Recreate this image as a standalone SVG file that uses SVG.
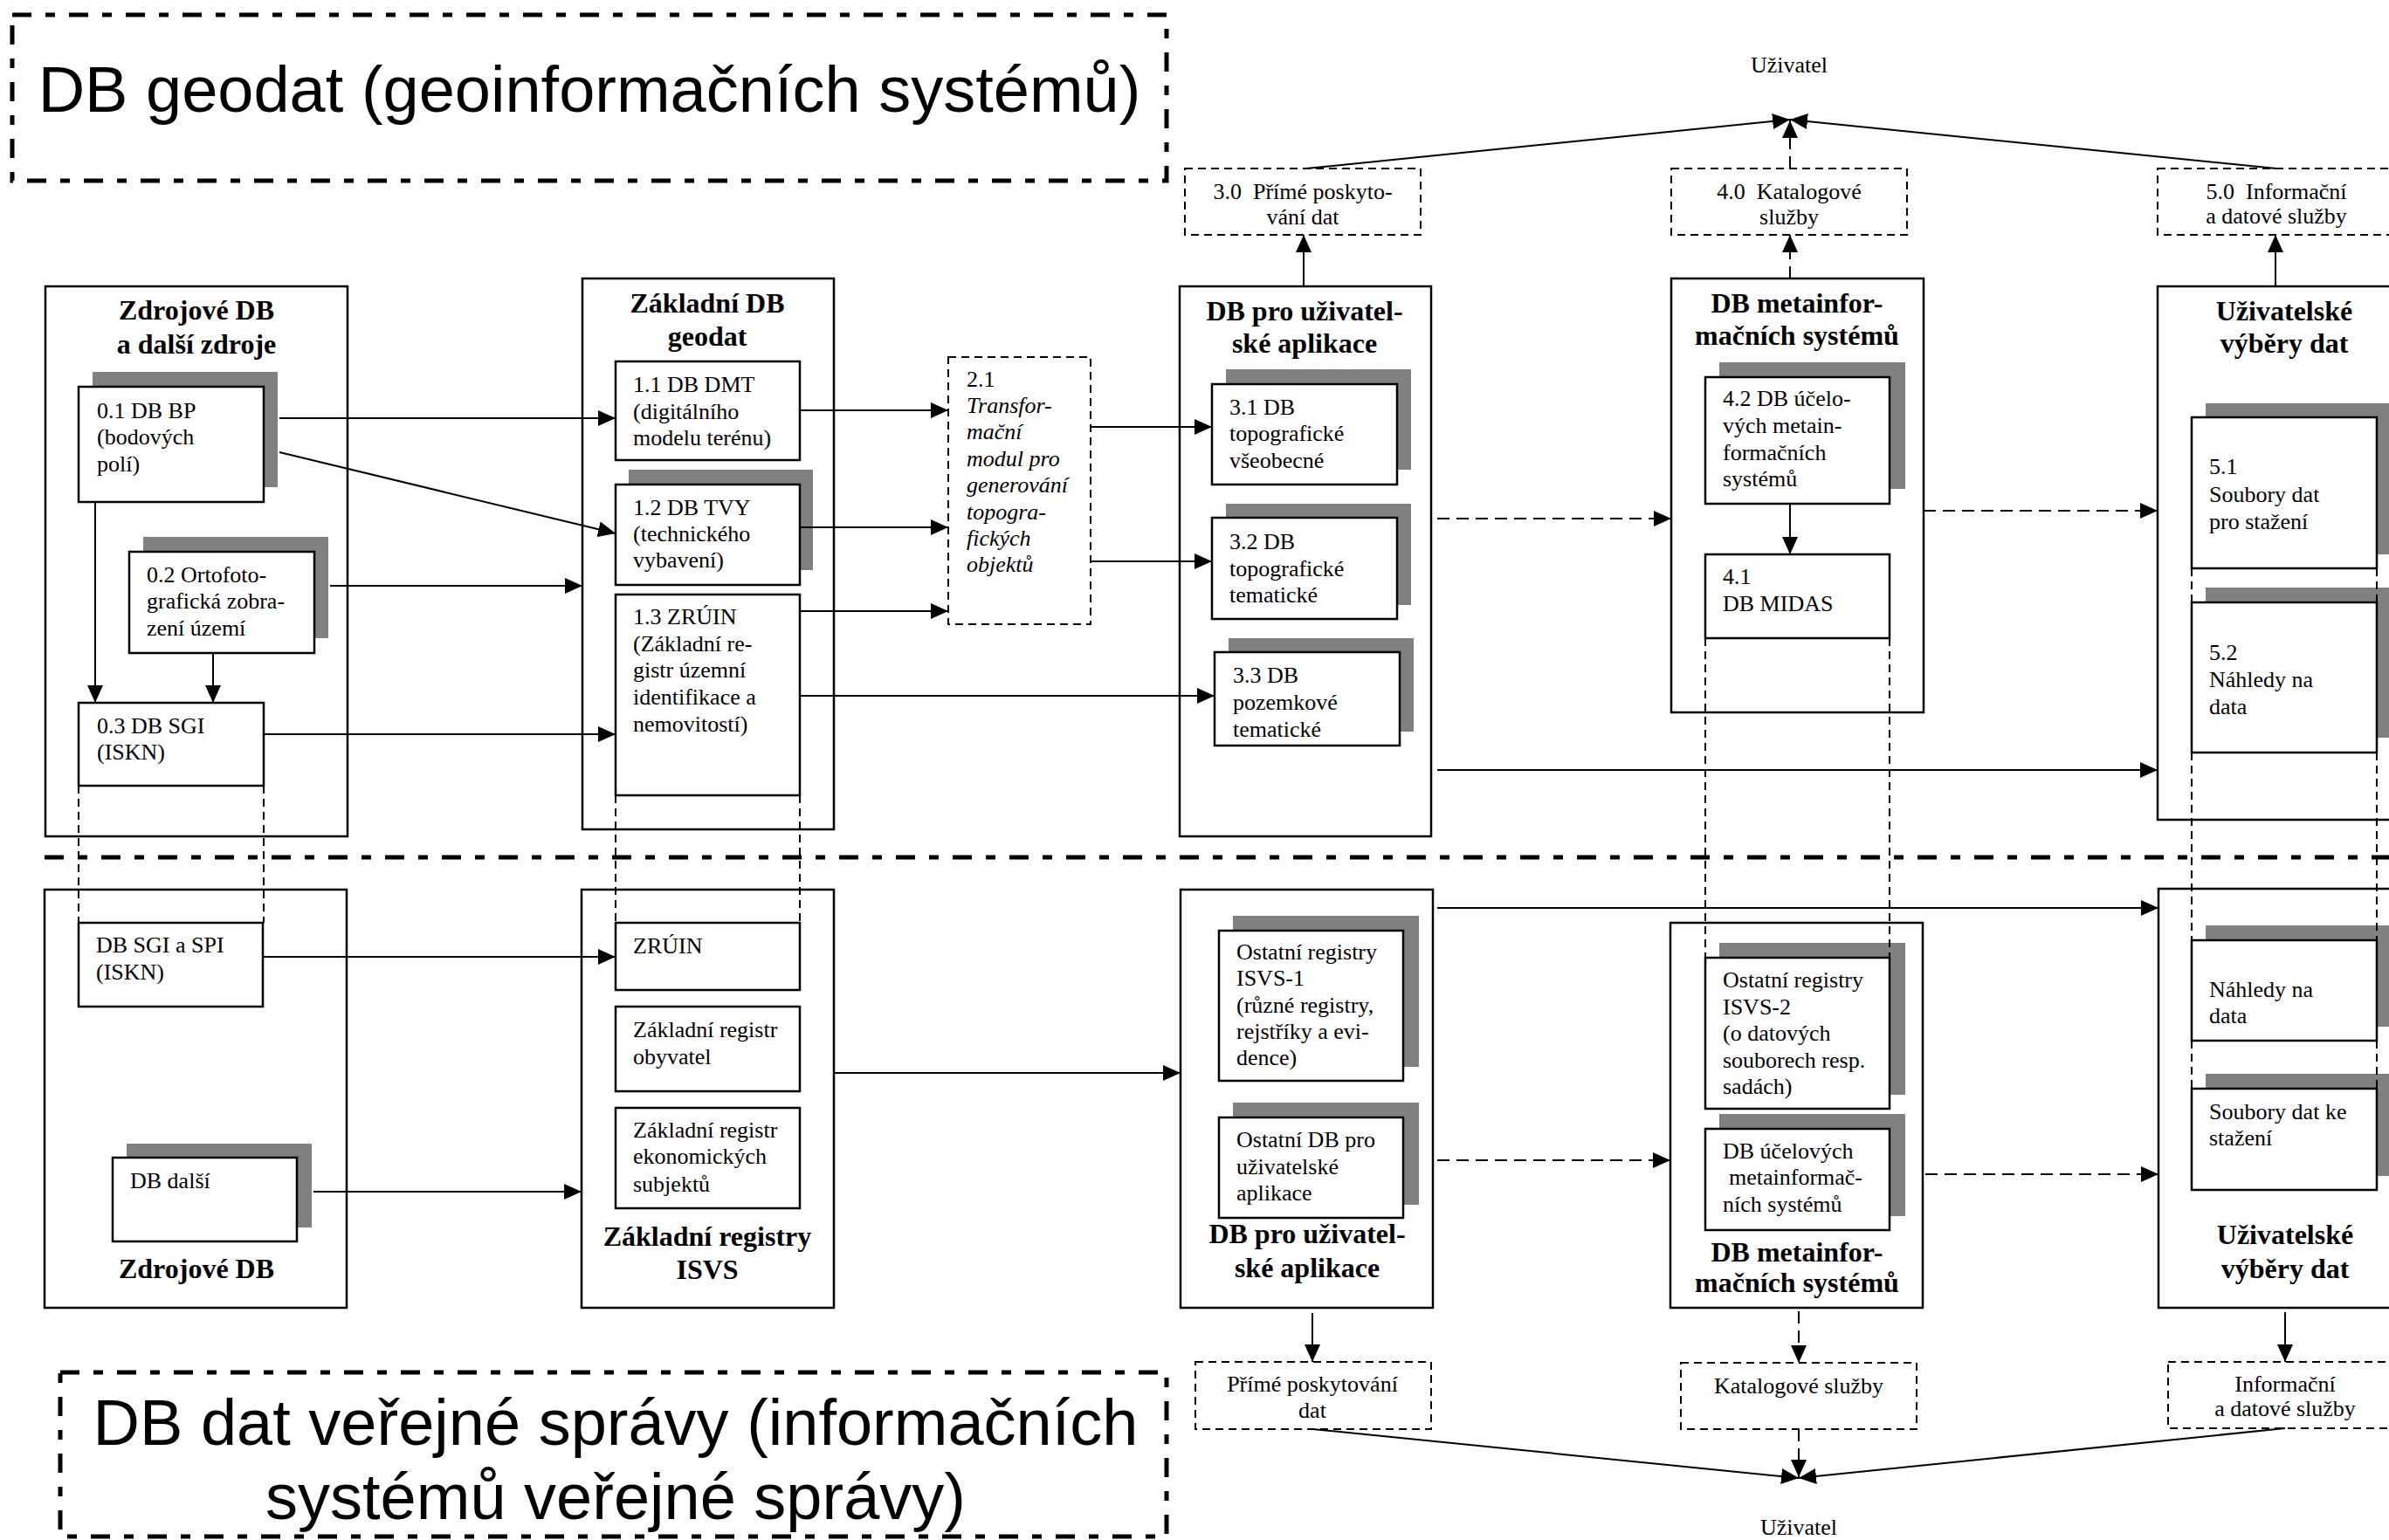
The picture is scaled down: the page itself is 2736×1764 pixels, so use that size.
<svg xmlns="http://www.w3.org/2000/svg" width="2736" height="1764" viewBox="0 0 2736 1764">
<style>
.bg{fill:#fff}
.ob{fill:#fff;stroke:#000;stroke-width:2.5}
.ib{fill:#fff;stroke:#000;stroke-width:2.5}
.sh{fill:#808080}
.db{fill:#fff;stroke:#000;stroke-width:2;stroke-dasharray:9 6}
.t{font-family:"Liberation Serif","Times New Roman",serif;font-size:26px;fill:#000}
.i{font-style:italic}
.m{text-anchor:middle}
.h{font-family:"Liberation Serif","Times New Roman",serif;font-size:32px;font-weight:bold;text-anchor:middle;fill:#000}
.ttl{font-family:"Liberation Sans",Arial,sans-serif;font-size:74px;text-anchor:middle;fill:#000}
.tb{fill:none;stroke:#000;stroke-width:5;stroke-dasharray:22 16 11 16}
.ln{fill:none;stroke:#000;stroke-width:2}
.dl{fill:none;stroke:#000;stroke-width:2;stroke-dasharray:14 8}
.dv{fill:none;stroke:#000;stroke-width:2;stroke-dasharray:9 6}
.a{marker-end:url(#ah)}
</style>
<defs>
<marker id="ah" markerWidth="20" markerHeight="18" refX="20" refY="9" orient="auto" markerUnits="userSpaceOnUse">
<path d="M0,0 L20,9 L0,18 z" fill="#000"/>
</marker>
</defs>
<rect class="bg" x="0" y="0" width="2736" height="1764"/>

<g id="title-geodat">
<rect class="tb" x="14" y="17" width="1322" height="190"/>
<text class="ttl" x="675" y="128">DB geodat (geoinformačních systémů)</text>
</g>
<g id="title-vs">
<rect class="tb" x="69" y="1572" width="1267" height="188"/>
<text class="ttl" x="705" y="1655">DB dat veřejné správy (informačních</text>
<text class="ttl" x="705" y="1740">systémů veřejné správy)</text>
</g>

<!-- upper column 0 -->
<g id="zdrojove-db-upper">
<rect class="ob" x="52" y="328" width="346" height="630"/>
<text class="h" x="225" y="366">Zdrojové DB</text>
<text class="h" x="225" y="405">a další zdroje</text>
</g>
<g id="n01">
<rect class="sh" x="106" y="426" width="212" height="132"/>
<rect class="ib" x="90" y="443" width="212" height="132"/>
<text class="t" x="111" y="479">0.1 DB BP</text>
<text class="t" x="111" y="509">(bodových</text>
<text class="t" x="111" y="540">polí)</text>
</g>
<g id="n02">
<rect class="sh" x="164" y="615" width="212" height="116"/>
<rect class="ib" x="148" y="632" width="212" height="116"/>
<text class="t" x="168" y="667">0.2 Ortofoto-</text>
<text class="t" x="168" y="697">grafická zobra-</text>
<text class="t" x="168" y="728">zení území</text>
</g>
<g id="n03">
<rect class="ib" x="90" y="805" width="212" height="95"/>
<text class="t" x="111" y="840">0.3 DB SGI</text>
<text class="t" x="111" y="870">(ISKN)</text>
</g>

<!-- upper column 1 -->
<g id="zakladni-db-geodat">
<rect class="ob" x="667" y="319" width="288" height="631"/>
<text class="h" x="810" y="358">Základní DB</text>
<text class="h" x="810" y="396">geodat</text>
</g>
<g id="n11">
<rect class="ib" x="705" y="414" width="211" height="113"/>
<text class="t" x="725" y="449">1.1 DB DMT</text>
<text class="t" x="725" y="480">(digitálního</text>
<text class="t" x="725" y="510">modelu terénu)</text>
</g>
<g id="n12">
<rect class="sh" x="720" y="538" width="211" height="115"/>
<rect class="ib" x="705" y="555" width="211" height="115"/>
<text class="t" x="725" y="590">1.2 DB TVY</text>
<text class="t" x="725" y="620">(technického</text>
<text class="t" x="725" y="650">vybavení)</text>
</g>
<g id="n13">
<rect class="ib" x="705" y="681" width="211" height="230"/>
<text class="t" x="725" y="715">1.3 ZRÚIN</text>
<text class="t" x="725" y="746">(Základní re-</text>
<text class="t" x="725" y="776">gistr územní</text>
<text class="t" x="725" y="807">identifikace a</text>
<text class="t" x="725" y="838">nemovitostí)</text>
</g>

<!-- 2.1 -->
<g id="n21">
<rect class="db" x="1086" y="409" width="163" height="306"/>
<text class="t" x="1107" y="443">2.1</text>
<text class="t i" x="1107" y="473">Transfor-</text>
<text class="t i" x="1107" y="503">mační</text>
<text class="t i" x="1107" y="534">modul pro</text>
<text class="t i" x="1107" y="564">generování</text>
<text class="t i" x="1107" y="595">topogra-</text>
<text class="t i" x="1107" y="625">fických</text>
<text class="t i" x="1107" y="655">objektů</text>
</g>

<!-- upper column 3 -->
<g id="db-uziv-apl-upper">
<rect class="ob" x="1351" y="328" width="288" height="630"/>
<text class="h" x="1494" y="367">DB pro uživatel-</text>
<text class="h" x="1494" y="404">ské aplikace</text>
</g>
<g id="n31">
<rect class="sh" x="1404" y="423" width="212" height="115"/>
<rect class="ib" x="1388" y="440" width="212" height="115"/>
<text class="t" x="1408" y="475">3.1 DB</text>
<text class="t" x="1408" y="505">topografické</text>
<text class="t" x="1408" y="536">všeobecné</text>
</g>
<g id="n32">
<rect class="sh" x="1404" y="577" width="212" height="116"/>
<rect class="ib" x="1388" y="593" width="212" height="116"/>
<text class="t" x="1408" y="629">3.2 DB</text>
<text class="t" x="1408" y="660">topografické</text>
<text class="t" x="1408" y="690">tematické</text>
</g>
<g id="n33">
<rect class="sh" x="1407" y="731" width="212" height="107"/>
<rect class="ib" x="1391" y="747" width="212" height="107"/>
<text class="t" x="1412" y="782">3.3 DB</text>
<text class="t" x="1412" y="813">pozemkové</text>
<text class="t" x="1412" y="844">tematické</text>
</g>
<g id="n30">
<rect class="db" x="1357" y="193" width="270" height="76"/>
<text class="t m" x="1492" y="228">3.0&#160; Přímé poskyto-</text>
<text class="t m" x="1492" y="257">vání dat</text>
</g>

<!-- upper column 4 -->
<g id="db-meta-upper">
<rect class="ob" x="1914" y="319" width="289" height="497"/>
<text class="h" x="2058" y="358">DB metainfor-</text>
<text class="h" x="2058" y="395">mačních systémů</text>
</g>
<g id="n42">
<rect class="sh" x="1969" y="415" width="213" height="145"/>
<rect class="ib" x="1953" y="432" width="211" height="145"/>
<text class="t" x="1973" y="465">4.2 DB účelo-</text>
<text class="t" x="1973" y="496">vých metain-</text>
<text class="t" x="1973" y="527">formačních</text>
<text class="t" x="1973" y="557">systémů</text>
</g>
<g id="n41">
<rect class="ib" x="1953" y="635" width="211" height="96"/>
<text class="t" x="1973" y="669">4.1</text>
<text class="t" x="1973" y="700">DB MIDAS</text>
</g>
<g id="n40">
<rect class="db" x="1914" y="193" width="270" height="76"/>
<text class="t m" x="2049" y="228">4.0&#160; Katalogové</text>
<text class="t m" x="2049" y="257">služby</text>
</g>

<!-- upper column 5 -->
<g id="uziv-vybery-upper">
<rect class="ob" x="2471" y="328" width="300" height="611"/>
<text class="h" x="2616" y="367">Uživatelské</text>
<text class="h" x="2616" y="404">výběry dat</text>
</g>
<g id="n51">
<rect class="sh" x="2526" y="462" width="212" height="173"/>
<rect class="ib" x="2510" y="478" width="212" height="173"/>
<text class="t" x="2530" y="543">5.1</text>
<text class="t" x="2530" y="575">Soubory dat</text>
<text class="t" x="2530" y="606">pro stažení</text>
</g>
<g id="n52">
<rect class="sh" x="2526" y="673" width="212" height="172"/>
<rect class="ib" x="2510" y="690" width="212" height="172"/>
<text class="t" x="2530" y="756">5.2</text>
<text class="t" x="2530" y="787">Náhledy na</text>
<text class="t" x="2530" y="818">data</text>
</g>
<g id="n50">
<rect class="db" x="2471" y="193" width="300" height="76"/>
<text class="t m" x="2607" y="228">5.0&#160; Informační</text>
<text class="t m" x="2607" y="256">a datové služby</text>
</g>
<g id="user-top">
<text class="t m" x="2049" y="83">Uživatel</text>
</g>

<!-- lower column 0 -->
<g id="zdrojove-db-lower">
<rect class="ob" x="51" y="1019" width="346" height="479"/>
<text class="h" x="225" y="1464">Zdrojové DB</text>
</g>
<g id="n-sgi-spi">
<rect class="ib" x="90" y="1057" width="211" height="96"/>
<text class="t" x="110" y="1091">DB SGI a SPI</text>
<text class="t" x="110" y="1122">(ISKN)</text>
</g>
<g id="n-db-dalsi">
<rect class="sh" x="145" y="1310" width="212" height="96"/>
<rect class="ib" x="129" y="1326" width="211" height="96"/>
<text class="t" x="149" y="1361">DB další</text>
</g>

<!-- lower column 1 -->
<g id="zakladni-registry">
<rect class="ob" x="666" y="1019" width="289" height="479"/>
<text class="h" x="810" y="1427">Základní registry</text>
<text class="h" x="810" y="1465">ISVS</text>
</g>
<g id="n-zruin">
<rect class="ib" x="705" y="1057" width="211" height="77"/>
<text class="t" x="725" y="1092">ZRÚIN</text>
</g>
<g id="n-zro">
<rect class="ib" x="705" y="1153" width="211" height="97"/>
<text class="t" x="725" y="1188">Základní registr</text>
<text class="t" x="725" y="1219">obyvatel</text>
</g>
<g id="n-zres">
<rect class="ib" x="705" y="1269" width="211" height="115"/>
<text class="t" x="725" y="1303">Základní registr</text>
<text class="t" x="725" y="1333">ekonomických</text>
<text class="t" x="725" y="1365">subjektů</text>
</g>

<!-- lower column 3 -->
<g id="db-uziv-apl-lower">
<rect class="ob" x="1352" y="1019" width="289" height="479"/>
<text class="h" x="1497" y="1424">DB pro uživatel-</text>
<text class="h" x="1497" y="1463">ské aplikace</text>
</g>
<g id="n-isvs1">
<rect class="sh" x="1412" y="1049" width="213" height="173"/>
<rect class="ib" x="1396" y="1066" width="211" height="172"/>
<text class="t" x="1416" y="1099">Ostatní registry</text>
<text class="t" x="1416" y="1129">ISVS-1</text>
<text class="t" x="1416" y="1160">(různé registry,</text>
<text class="t" x="1416" y="1190">rejstříky a evi-</text>
<text class="t" x="1416" y="1220">dence)</text>
</g>
<g id="n-ostatni-db">
<rect class="sh" x="1412" y="1263" width="213" height="117"/>
<rect class="ib" x="1396" y="1280" width="211" height="115"/>
<text class="t" x="1416" y="1314">Ostatní DB pro</text>
<text class="t" x="1416" y="1345">uživatelské</text>
<text class="t" x="1416" y="1375">aplikace</text>
</g>
<g id="n-prime-lower">
<rect class="db" x="1369" y="1560" width="270" height="77"/>
<text class="t m" x="1503" y="1594">Přímé poskytování</text>
<text class="t m" x="1503" y="1624">dat</text>
</g>

<!-- lower column 4 -->
<g id="db-meta-lower">
<rect class="ob" x="1913" y="1057" width="289" height="441"/>
<text class="h" x="2058" y="1445">DB metainfor-</text>
<text class="h" x="2058" y="1480">mačních systémů</text>
</g>
<g id="n-isvs2">
<rect class="sh" x="1969" y="1080" width="213" height="174"/>
<rect class="ib" x="1953" y="1097" width="211" height="173"/>
<text class="t" x="1973" y="1131">Ostatní registry</text>
<text class="t" x="1973" y="1162">ISVS-2</text>
<text class="t" x="1973" y="1192">(o datových</text>
<text class="t" x="1973" y="1223">souborech resp.</text>
<text class="t" x="1973" y="1253">sadách)</text>
</g>
<g id="n-ucelove">
<rect class="sh" x="1969" y="1276" width="213" height="117"/>
<rect class="ib" x="1953" y="1293" width="211" height="116"/>
<text class="t" x="1973" y="1327">DB účelových</text>
<text class="t" x="1980" y="1357">metainformač-</text>
<text class="t" x="1973" y="1388">ních systémů</text>
</g>
<g id="n-katalog-lower">
<rect class="db" x="1925" y="1561" width="270" height="76"/>
<text class="t m" x="2060" y="1596">Katalogové služby</text>
</g>

<!-- lower column 5 -->
<g id="uziv-vybery-lower">
<rect class="ob" x="2472" y="1018" width="300" height="480"/>
<text class="h" x="2617" y="1425">Uživatelské</text>
<text class="h" x="2617" y="1464">výběry dat</text>
</g>
<g id="n-nahledy">
<rect class="sh" x="2526" y="1060" width="212" height="116"/>
<rect class="ib" x="2510" y="1077" width="212" height="115"/>
<text class="t" x="2530" y="1142">Náhledy na</text>
<text class="t" x="2530" y="1172">data</text>
</g>
<g id="n-soubory">
<rect class="sh" x="2526" y="1230" width="212" height="117"/>
<rect class="ib" x="2510" y="1247" width="212" height="116"/>
<text class="t" x="2530" y="1282">Soubory dat ke</text>
<text class="t" x="2530" y="1312">stažení</text>
</g>
<g id="n-inform-lower">
<rect class="db" x="2483" y="1560" width="290" height="76"/>
<text class="t m" x="2617" y="1594">Informační</text>
<text class="t m" x="2617" y="1622">a datové služby</text>
</g>
<g id="user-bottom">
<text class="t m" x="2060" y="1758">Uživatel</text>
</g>

<g id="connectors">
<path class="ln a" d="M109,575 L109,805"/>
<path class="ln a" d="M244,748 L244,805"/>
<path class="ln a" d="M320,479 L705,479"/>
<path class="ln a" d="M320,518 L705,611"/>
<path class="ln a" d="M378,671 L667,671"/>
<path class="ln a" d="M302,841 L705,841"/>
<path class="ln a" d="M916,470 L1086,470"/>
<path class="ln a" d="M916,604 L1086,604"/>
<path class="ln a" d="M916,700 L1086,700"/>
<path class="ln a" d="M916,797 L1391,797"/>
<path class="ln a" d="M1249,489 L1388,489"/>
<path class="ln a" d="M1249,643 L1388,643"/>
<path class="dl a" d="M1646,594 L1914,594"/>
<path class="ln a" d="M1646,882 L2471,882"/>
<path class="dl a" d="M2203,585 L2471,585"/>
<path class="ln a" d="M2050,577 L2050,635"/>
<path class="ln a" d="M1493,328 L1493,269"/>
<path class="dl a" d="M2050,319 L2050,269"/>
<path class="ln a" d="M2606,328 L2606,269"/>
<path class="ln a" d="M1496,193 L2050,137"/>
<path class="dl a" d="M2050,193 L2050,138"/>
<path class="ln a" d="M2607,193 L2050,137"/>
<path class="ln a" d="M301,1096 L705,1096"/>
<path class="ln a" d="M359,1365 L666,1365"/>
<path class="ln a" d="M955,1229 L1352,1229"/>
<path class="ln a" d="M1646,1040 L2472,1040"/>
<path class="dl a" d="M1646,1329 L1913,1329"/>
<path class="dl a" d="M2205,1345 L2472,1345"/>
<path class="ln a" d="M1503,1504 L1503,1560"/>
<path class="dl a" d="M2060,1502 L2060,1561"/>
<path class="ln a" d="M2617,1503 L2617,1560"/>
<path class="ln a" d="M1503,1637 L2060,1693"/>
<path class="dl a" d="M2060,1637 L2060,1692"/>
<path class="ln a" d="M2617,1636 L2060,1693"/>
<path class="dv" d="M90,900 L90,1057 M302,900 L302,1057"/>
<path class="dv" d="M705,911 L705,1057 M916,911 L916,1057"/>
<path class="dv" d="M1953,731 L1953,1097 M2164,731 L2164,1097"/>
<path class="dv" d="M2510,651 L2510,690 M2722,651 L2722,690 M2510,862 L2510,1077 M2722,862 L2722,1077 M2510,1192 L2510,1247 M2722,1192 L2722,1247"/>
</g>
<g id="separator">
<path class="tb" d="M51,982 L2736,982"/>
</g>
</svg>
